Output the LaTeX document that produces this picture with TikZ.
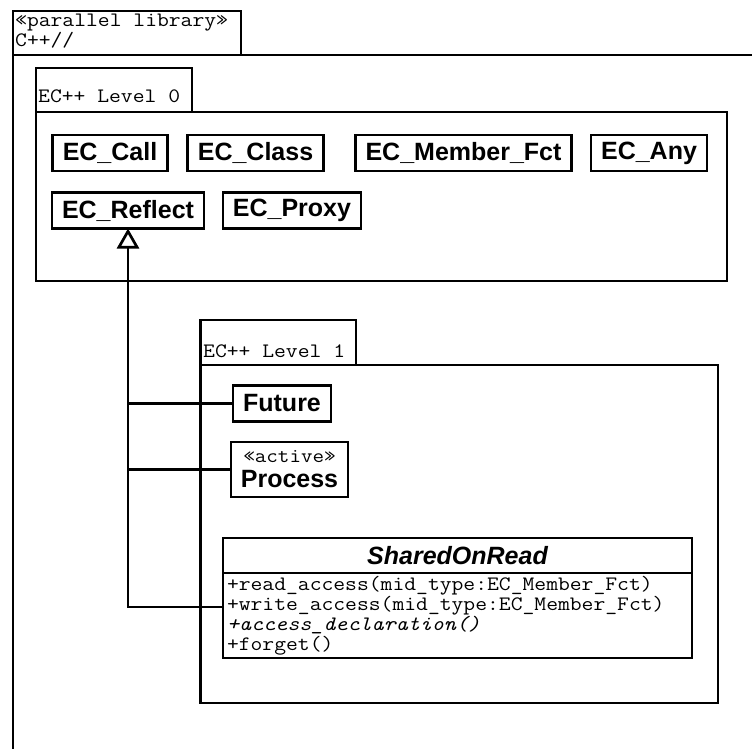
\documentclass[tikz,border=0pt]{standalone}
\usepackage{fontspec}
\setmainfont{Liberation Sans}
\setmonofont[FakeStretch=1.12]{Latin Modern Mono}
\usetikzlibrary{arrows.meta,positioning}

\tikzset{
  uml_cls/.style = {draw=black, line width=2.7pt, outer sep=0pt, inner xsep=10pt,
    minimum height=36pt, align=center, font=\fontsize{25}{25}\selectfont\bfseries},% classe
  uml_ops/.style = {draw=black, line width=2.7pt, outer sep=0pt, inner xsep=4pt,
    inner ysep=3pt, minimum width=469pt, minimum height=85pt, text width=461pt,
    align=left, font=\fontsize{20.5}{20}\selectfont\ttfamily},% operations
  uml_pkg/.style = {draw=black, line width=2.7pt},% paquetage
  uml_txt/.style = {anchor=base west, inner sep=0pt,
    font=\fontsize{20.5}{20}\selectfont\ttfamily},% texte mono
  uml_line/.style = {line width=2.7pt},% trait
  uml_gen/.style = {uml_line, -{Triangle[open, length=20pt, width=22pt]}}% generalisation
}

\begin{document}
\begin{tikzpicture}[x=1pt, y=-1pt]
  \useasboundingbox (0,0) rectangle (752,749);
  % parallel library
  \draw[uml_pkg] (13,11) rectangle (241,55);
  \draw[uml_pkg] (752,55) -- (13,55) -- (13,749);
  \node[uml_txt] (libstereo) at (15,27) {«parallel library»};
  \node[uml_txt] (libname) at (15,47) {C++//};
  % level 0
  \draw[uml_pkg] (36,68) rectangle (192,112);
  \draw[uml_pkg] (36,112) rectangle (727,281);
  \node[uml_txt] (lvl0) at (38,103) {EC++ Level 0};
  \node[uml_cls] (call) at (110,153) {EC\_Call};
  \node[uml_cls] (class) at (255.5,153) {EC\_Class};
  \node[uml_cls] (member) at (463.5,153) {EC\_Member\_Fct};
  \node[uml_cls] (any) at (649,153) {EC\_Any};
  \node[uml_cls] (reflect) at (128,210.5) {EC\_Reflect};
  \node[uml_cls] (proxy) at (292,210.5) {EC\_Proxy};
  % level 1
  \draw[uml_pkg] (200.5,320) rectangle (356,365);
  \draw[uml_pkg] (200.5,365) rectangle (718,703);
  \node[uml_txt] (lvl1) at (203,357) {EC++ Level 1};
  \node[uml_cls] (future) at (282,403.5) {Future};
  \node[uml_cls, minimum height=55pt] (process) at (289.5,469.5)
    {{\fontsize{20}{23}\selectfont\mdseries\ttfamily «active»}\\Process};
  \node[uml_cls, font=\fontsize{25}{25}\selectfont\bfseries\itshape, anchor=north west,
    minimum width=469pt, minimum height=35pt] (sorname) at (223,538) {SharedOnRead};
  \node[uml_ops, below=0pt of sorname] (sorops) {+read\_access(mid\_type:EC\_Member\_Fct)\\
    +write\_access(mid\_type:EC\_Member\_Fct)\\
    {\itshape +access\_declaration()}\\
    +forget()};
  % heritage
  \coordinate (sorhook) at ([yshift=-34pt]sorops.north west);
  \draw[uml_gen] (sorhook) -| (reflect.south);
  \draw[uml_line] (future.west) -- (future.west -| reflect.south);
  \draw[uml_line] (process.west) -- (process.west -| reflect.south);
\end{tikzpicture}
\end{document}
